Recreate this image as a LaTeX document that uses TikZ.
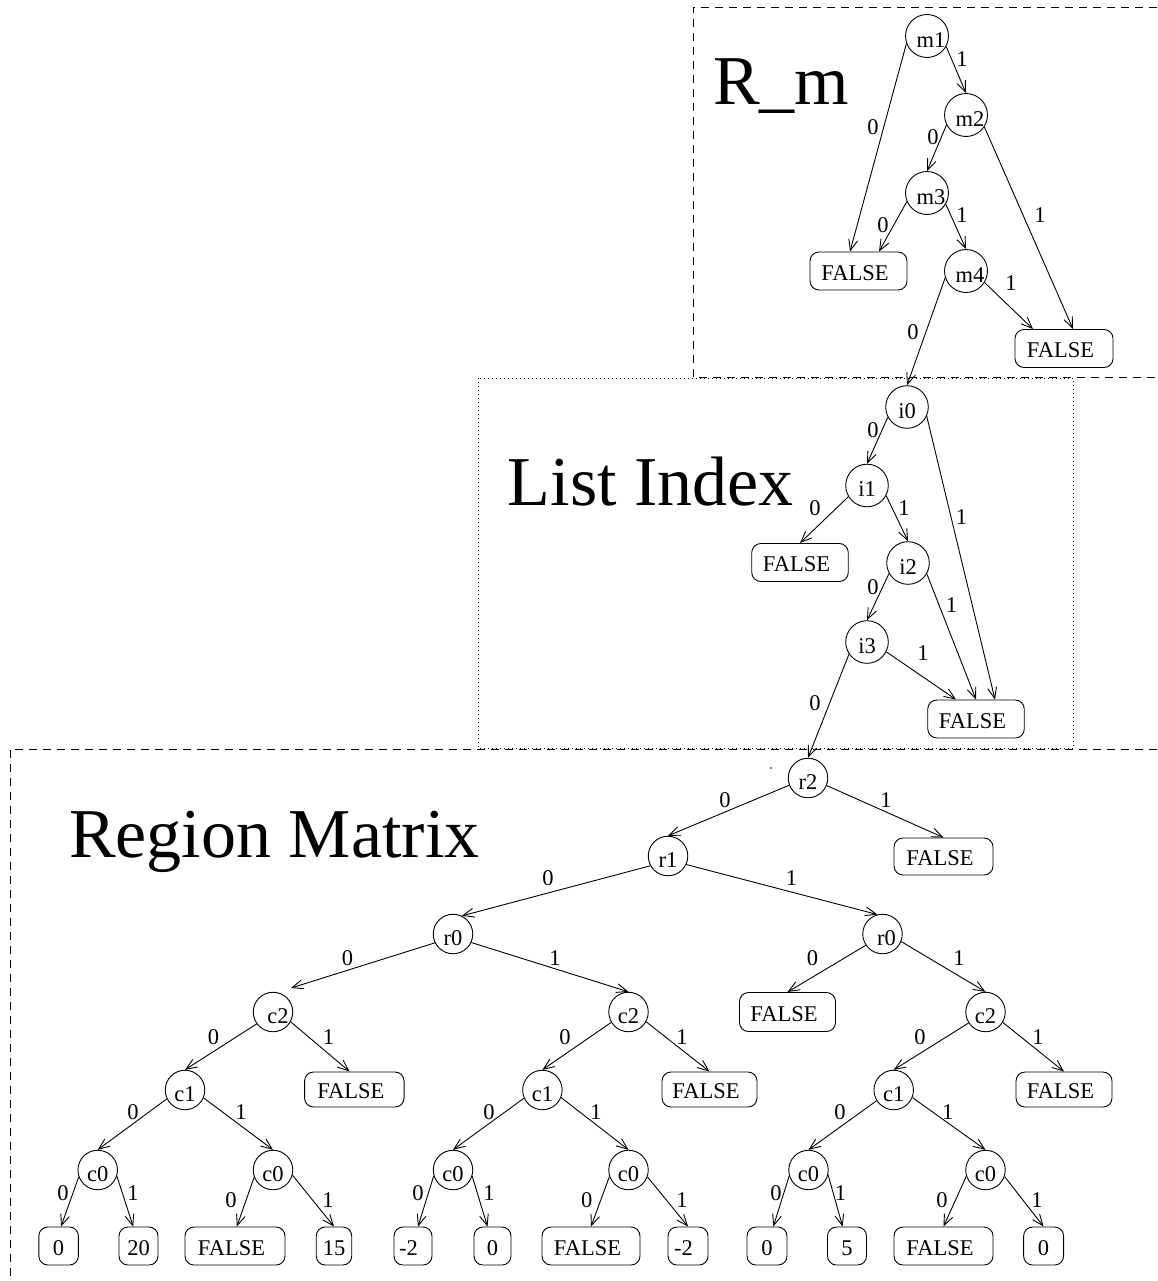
\documentclass[tikz,border=0pt]{standalone}
\usepackage{fontspec}
\setmainfont{Liberation Serif}
\usetikzlibrary{arrows.meta}
\begin{document}
\begin{tikzpicture}[x=1pt,y=-1pt,
  every node/.style={font=\fontsize{22.5}{27}\selectfont},
  var/.style={circle,draw,line width=0.9pt,minimum size=42.6pt,inner sep=0pt,text height=22.2pt,text depth=0pt},
  rvar/.style={var,minimum size=39.5pt},
  leaf/.style={draw,line width=0.9pt,rounded corners=9pt,minimum height=38pt,inner sep=0pt,text height=18.9pt,text depth=0pt},
  edge/.style={line width=0.9pt,-{Straight Barb[length=11pt,width=9pt]}},
  lbl/.style={inner sep=0pt},
  title/.style={font=\fontsize{70}{80}\selectfont,inner sep=0pt,anchor=base west},
  frame/.style={line width=0.9pt},
  dashframe/.style={frame,dash pattern=on 8pt off 6pt},
  dotframe/.style={frame,dash pattern=on 1pt off 3pt},
]
\useasboundingbox (0,0) rectangle (1157,1281);

% section frames
\draw[dashframe] (1157,7) -- (693,7) -- (693,377) -- (1157,377);
\draw[dotframe] (478,378) rectangle (1073.5,748);
\draw[dashframe] (1157,749) -- (10,749) -- (10,1281);

% section titles
\node[title] (tR) at (713,105) {R\_m};
\node[title] (tL) at (507.6,505) {List Index};
\node[title] (tG) at (69,857) {Region Matrix};

% ---- R_m ----
\node[var] (m1) at (927,36) {\hspace*{8pt}m1};
\node[var] (m2) at (966,115) {\hspace*{8pt}m2};
\node[var] (m3) at (927,193) {\hspace*{8pt}m3};
\node[var] (m4) at (966,271) {\hspace*{8pt}m4};
\node[leaf,minimum width=97pt] (Fa) at (858.5,271) {FALSE\hspace*{7pt}};
\node[leaf,minimum width=98pt] (Fb) at (1064,348.5) {FALSE\hspace*{7pt}};

\draw[edge] (m1.200) -- ([xshift=-8.5pt]Fa.north) node[lbl] at (873,127) {0};
\draw[edge] (m1.331) -- (m2.north) node[lbl] at (962,59) {1};
\draw[edge] (m2.207) -- (m3.north) node[lbl] at (933,137) {0};
\draw[edge] (m2.327) -- ([xshift=9pt]Fb.north) node[lbl] at (1040,215) {1};
\draw[edge] (m3.203) -- ([xshift=20.5pt]Fa.north) node[lbl] at (883,225) {0};
\draw[edge] (m3.329) -- (m4.north) node[lbl] at (962,215) {1};
\draw[edge] (m4.328) -- ([xshift=-31pt]Fb.north) node[lbl] at (1011,283) {1};

% ---- List Index ----
\node[var] (i0) at (907,407) {i0};
\node[var] (i1) at (867,485.5) {i1};
\node[var] (i2) at (908,563) {i2};
\node[var] (i3) at (867,642) {i3};
\node[leaf,minimum width=96.5pt] (FLa) at (800,562.5) {FALSE\hspace*{7pt}};
\node[leaf,minimum width=96.5pt] (FLb) at (976,719) {FALSE\hspace*{7pt}};

\draw[edge] (m4.198) -- (i0.north) node[lbl] at (913,332) {0};
\draw[edge] (i0.208) -- (i1.north) node[lbl] at (873,430) {0};
\draw[edge] (i0.335) -- ([xshift=19pt]FLb.north) node[lbl] at (961.5,517) {1};
\draw[edge] (i1.211) -- (FLa.north) node[lbl] at (815,508) {0};
\draw[edge] (i1.332) -- (i2.north) node[lbl] at (904,508) {1};
\draw[edge] (i2.209) -- (i3.north) node[lbl] at (873,587) {0};
\draw[edge] (i2.330) -- (FLb.north) node[lbl] at (951.6,605) {1};
\draw[edge] (i3.333) -- ([xshift=-20pt]FLb.north) node[lbl] at (923,653) {1};

% ---- Region Matrix ----
\node[rvar] (r2) at (808,778) {r2};
\node[rvar] (r1) at (668,856) {r1};
\node[leaf,minimum width=99pt,minimum height=37pt] (Fr2) at (943.5,856.5) {FALSE\hspace*{7pt}};
\node[rvar] (r0a) at (453,934) {r0};
\node[rvar] (r0b) at (882.5,934) {\hspace*{8pt}r0};
\node[leaf,minimum width=96pt,minimum height=39pt] (Fr0b) at (787.5,1012) {FALSE\hspace*{7pt}};

\node[rvar] (c2a) at (273,1012) {\hspace*{10pt}c2};
\node[rvar] (c2b) at (628.5,1012) {c2};
\node[rvar] (c2c) at (985.5,1012) {c2};
\node[leaf,minimum width=99.5pt,minimum height=35pt] (Fc2a) at (354.3,1089.5) {FALSE\hspace*{7pt}};
\node[leaf,minimum width=95pt,minimum height=35pt] (Fc2b) at (709.5,1089.5) {FALSE\hspace*{7pt}};
\node[leaf,minimum width=96pt,minimum height=35pt] (Fc2c) at (1064,1089.5) {FALSE\hspace*{7pt}};

\node[rvar] (c1a) at (185,1090) {c1};
\node[rvar] (c1b) at (542.4,1090) {c1};
\node[rvar] (c1c) at (893.7,1090) {c1};

\node[rvar] (c0a) at (97.7,1170) {c0};
\node[rvar] (c0b) at (273,1170) {c0};
\node[rvar] (c0c) at (453,1170) {c0};
\node[rvar] (c0d) at (628.5,1170) {c0};
\node[rvar] (c0e) at (808.5,1170) {c0};
\node[rvar] (c0f) at (985.5,1170) {c0};

\node[leaf,minimum width=39.6pt] (L1) at (58.6,1246) {0};
\node[leaf,minimum width=39pt] (L2) at (138.5,1246) {20};
\node[leaf,minimum width=100pt] (L3) at (235,1246) {FALSE\hspace*{7pt}};
\node[leaf,minimum width=35.5pt] (L4) at (334,1246) {15};
\node[leaf,minimum width=38pt] (L5) at (413,1246) {-2\hspace*{9pt}};
\node[leaf,minimum width=37pt] (L6) at (492.5,1246) {0};
\node[leaf,minimum width=98pt] (L7) at (591,1246) {FALSE\hspace*{7pt}};
\node[leaf,minimum width=40pt] (L8) at (688,1246) {-2\hspace*{9pt}};
\node[leaf,minimum width=40pt] (L9) at (767,1246) {0};
\node[leaf,minimum width=39pt] (L10) at (847,1246) {5};
\node[leaf,minimum width=99pt] (L11) at (943.5,1246) {FALSE\hspace*{7pt}};
\node[leaf,minimum width=40pt] (L12) at (1043.6,1246) {0};

\draw[edge] (i3.214) -- (r2.north) node[lbl] at (815,703) {0};
\draw[edge] (r2.201) -- (r1.north) node[lbl] at (725,800) {0};
\draw[edge] (r2.338) -- (Fr2.north) node[lbl] at (886,800) {1};
\draw[edge] (r1.209) -- (r0a.64) node[lbl] at (548,878) {0};
\draw[edge] (r1.335) -- (r0b.105) node[lbl] at (791.6,878) {1};
\draw[edge] (r0a.206) -- ([xshift=18pt,yshift=24pt]c2a.center) node[lbl] at (347.5,958) {0};
\draw[edge] (r0a.335) -- (c2b.north) node[lbl] at (555,958) {1};
\draw[edge] (r0b.214) -- (Fr0b.north) node[lbl] at (812.6,958) {0};
\draw[edge] (r0b.338) -- (c2c.north) node[lbl] at (959,958) {1};

\draw[edge] (c2a.216) -- (c1a.north) node[lbl] at (213.5,1037) {0};
\draw[edge] (c2a.331) -- ([xshift=-4.7pt]Fc2a.north) node[lbl] at (328.5,1037) {1};
\draw[edge] (c2b.211) -- (c1b.north) node[lbl] at (565,1037) {0};
\draw[edge] (c2b.331) -- (Fc2b.north) node[lbl] at (682,1037) {1};
\draw[edge] (c2c.213) -- (c1c.north) node[lbl] at (920,1037) {0};
\draw[edge] (c2c.329) -- (Fc2c.north) node[lbl] at (1038,1037) {1};

\draw[edge] (c1a.206) -- (c0a.north) node[lbl] at (133,1112) {0};
\draw[edge] (c1a.337) -- (c0b.north) node[lbl] at (241,1112) {1};
\draw[edge] (c1b.204) -- (c0c.north) node[lbl] at (489,1112) {0};
\draw[edge] (c1b.338) -- (c0d.north) node[lbl] at (596,1112) {1};
\draw[edge] (c1c.212) -- (c0e.north) node[lbl] at (840,1112) {0};
\draw[edge] (c1c.338) -- (c0f.north) node[lbl] at (947.7,1112) {1};

\draw[edge] (c0a.200) -- ([xshift=2.4pt]L1.north) node[lbl] at (63,1193) {0};
\draw[edge] (c0a.342) -- ([xshift=-5.3pt]L2.north) node[lbl] at (133,1193) {1};
\draw[edge] (c0b.201) -- ([xshift=1.8pt]L3.north) node[lbl] at (231,1200) {0};
\draw[edge] (c0b.345) -- (L4.north) node[lbl] at (328,1200) {1};
\draw[edge] (c0c.197) -- ([xshift=5pt]L5.north) node[lbl] at (418,1193) {0};
\draw[edge] (c0c.342) -- ([xshift=-5pt]L6.north) node[lbl] at (489,1193) {1};
\draw[edge] (c0d.199) -- (L7.north) node[lbl] at (586.7,1200) {0};
\draw[edge] (c0d.340) -- (L8.north) node[lbl] at (682,1200) {1};
\draw[edge] (c0e.197) -- ([xshift=6.3pt]L9.north) node[lbl] at (776,1193) {0};
\draw[edge] (c0e.346) -- ([xshift=-4.4pt]L10.north) node[lbl] at (840.6,1193) {1};
\draw[edge] (c0f.198) -- (L11.north) node[lbl] at (942,1200) {0};
\draw[edge] (c0f.341) -- (L12.north) node[lbl] at (1037,1200) {1};

% stray speck above r2
\fill (771,768) circle (0.8pt);
\end{tikzpicture}
\end{document}
